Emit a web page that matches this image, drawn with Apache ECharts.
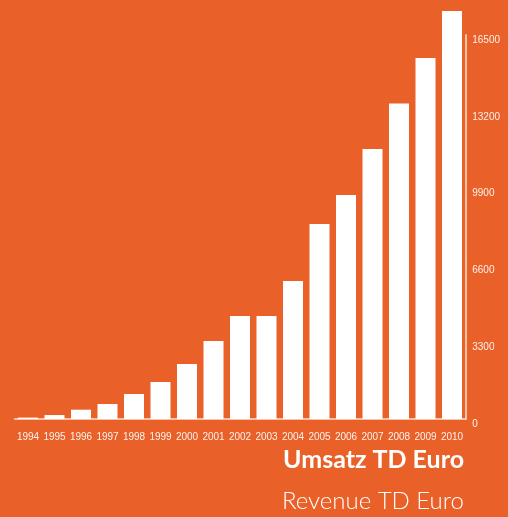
<!DOCTYPE html>
<html>
<head>
<meta charset="utf-8">
<script src="https://cdn.jsdelivr.net/npm/echarts@6/dist/echarts.min.js"></script>
<style>
  html, body { margin: 0; padding: 0; background: #e96128; }
  #chart { width: 508px; height: 517px; }
</style>
</head>
<body>
<div id="chart"></div>
<script>
// Umsatz pro Jahr (TD Euro)
var years = ['1994', '1995', '1996', '1997', '1998', '1999', '2000', '2001', '2002',
  '2003', '2004', '2005', '2006', '2007', '2008', '2009', '2010'];
var revenue = [60, 170, 400, 645, 1075, 1590, 2365, 3350, 4425,
  4425, 5930, 8380, 9625, 11600, 13560, 15510, 17530];
var yTicks = [0, 3300, 6600, 9900, 13200, 16500];

var myChart = echarts.init(document.getElementById('chart'));
myChart.setOption({
  backgroundColor: '#e96128',
  animation: false,
  title: [
    {
      text: 'Umsatz TD Euro',
      right: 44,
      top: 447,
      padding: 0,
      textStyle: { color: '#fff', fontSize: 25, fontWeight: 'bold', fontFamily: 'Lato' }
    },
    {
      text: 'Revenue TD Euro',
      right: 44,
      top: 489,
      padding: 0,
      textStyle: { color: '#fff', fontSize: 24, fontWeight: 300, fontFamily: 'Lato' }
    }
  ],
  grid: {
    left: 14.75,
    right: 42.75,
    top: 35,
    bottom: 98,
    containLabel: false
  },
  xAxis: {
    type: 'category',
    data: years,
    axisLine: { lineStyle: { color: 'rgba(255,255,255,0.6)', width: 2 } },
    axisTick: { show: false },
    axisLabel: {
      color: 'rgba(255,255,255,0.92)',
      fontSize: 10,
      fontFamily: 'Liberation Sans',
      margin: 13,
      interval: 0
    }
  },
  yAxis: {
    type: 'value',
    position: 'right',
    min: yTicks[0],
    max: yTicks[yTicks.length - 1],
    interval: 3300,
    axisLine: { show: true, lineStyle: { color: 'rgba(255,255,255,0.6)', width: 2 } },
    axisTick: { show: false },
    splitLine: { show: false },
    axisLabel: {
      color: 'rgba(255,255,255,0.92)',
      fontSize: 10,
      fontFamily: 'Liberation Sans',
      margin: 7,
      verticalAlign: 'top',
      formatter: function (v) { return String(v); }
    }
  },
  series: [
    {
      type: 'bar',
      data: revenue,
      barWidth: 20,
      clip: false,
      itemStyle: { color: '#ffffff' }
    }
  ]
});
</script>
</body>
</html>
